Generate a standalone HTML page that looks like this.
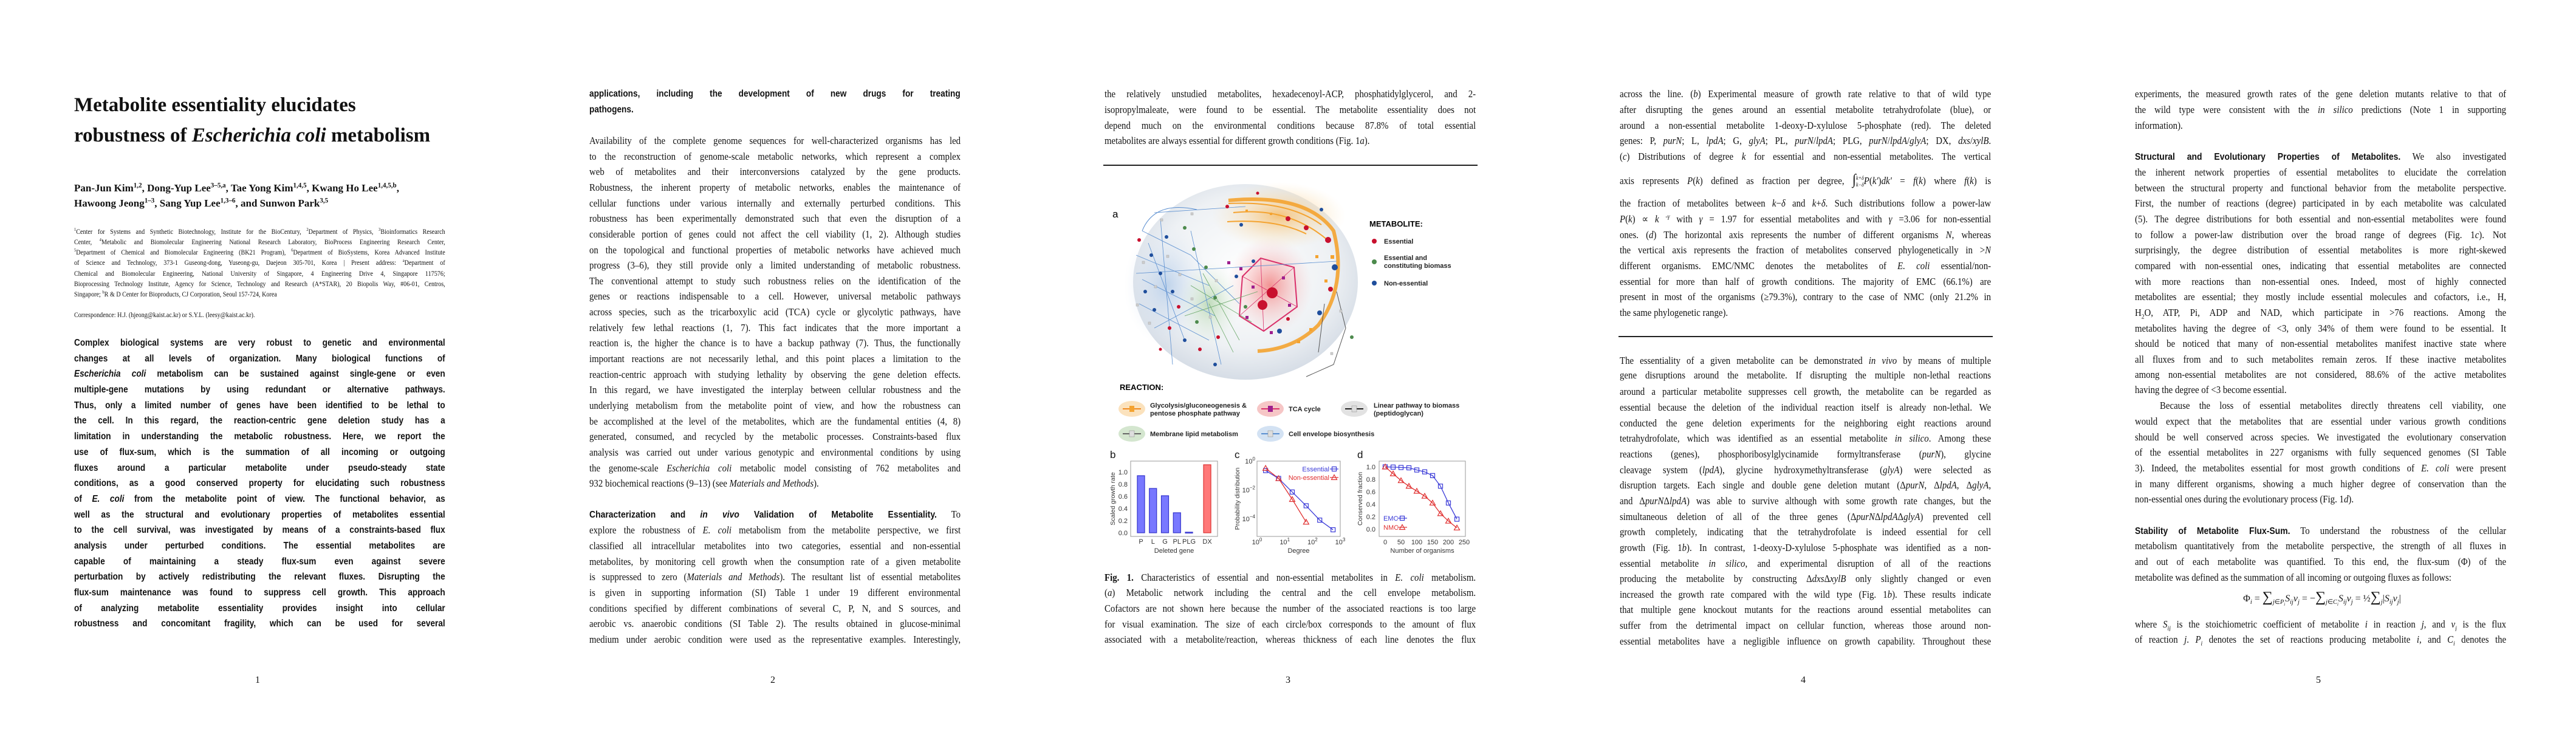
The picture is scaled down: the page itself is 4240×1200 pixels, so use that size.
<!DOCTYPE html>
<html><head><meta charset="utf-8">
<style>
html,body{margin:0;padding:0;background:#fff;}
body{width:4240px;height:1200px;position:relative;overflow:hidden;color:#111;}
.pg{position:absolute;top:0;width:848px;height:1200px;}
.L{position:absolute;left:122px;width:679px;height:22px;line-height:22px;overflow:hidden;text-align:justify;text-align-last:justify;font-family:"Liberation Serif",serif;font-size:16.5px;transform-origin:0 0;transform:scaleX(0.9);}
.S{font-family:"Liberation Sans",sans-serif;font-weight:bold;font-size:15.5px;width:694px;transform:scaleX(0.88);}
.hs{font-family:"Liberation Sans",sans-serif;font-weight:bold;font-size:15.5px;}
.aff{position:absolute;left:122px;width:694px;height:17px;line-height:17px;overflow:hidden;text-align:justify;text-align-last:justify;font-family:"Liberation Serif",serif;font-size:11.5px;transform-origin:0 0;transform:scaleX(0.88);}
.E{text-align-last:left;}
.pn{position:absolute;left:404px;width:40px;text-align:center;top:1110px;font:16px/20px "Liberation Serif",serif;}
sup{font-size:0.65em;line-height:0;}
sub{font-size:0.65em;line-height:0;}
#fig{position:absolute;left:0;top:0;}
</style></head>
<body>

<!-- PAGE 1 -->
<div class="pg" style="left:0">
<div style="position:absolute;left:122px;top:148px;font:bold 33px/50px 'Liberation Serif',serif;white-space:nowrap;">Metabolite essentiality elucidates<br>robustness of <i>Escherichia coli</i> metabolism</div>
<div style="position:absolute;left:122px;top:297px;font:bold 17px/25px 'Liberation Serif',serif;white-space:nowrap;">Pan-Jun Kim<sup>1,2</sup>, Dong-Yup Lee<sup>3–5,a</sup>, Tae Yong Kim<sup>1,4,5</sup>, Kwang Ho Lee<sup>1,4,5,b</sup>,<br>Hawoong Jeong<sup>1–3</sup>, Sang Yup Lee<sup>1,3–6</sup>, and Sunwon Park<sup>3,5</sup></div>
<div class="aff" style="top:374px"><sup>1</sup>Center for Systems and Synthetic Biotechnology, Institute for the BioCentury, <sup>2</sup>Department of Physics, <sup>3</sup>Bioinformatics Research</div>
<div class="aff" style="top:391px">Center, <sup>4</sup>Metabolic and Biomolecular Engineering National Research Laboratory, BioProcess Engineering Research Center,</div>
<div class="aff" style="top:408px"><sup>5</sup>Department of Chemical and Biomolecular Engineering (BK21 Program), <sup>6</sup>Department of BioSystems, Korea Advanced Institute</div>
<div class="aff" style="top:425px">of Science and Technology, 373-1 Guseong-dong, Yuseong-gu, Daejeon 305-701, Korea | Present address: <sup>a</sup>Department of</div>
<div class="aff" style="top:443px">Chemical and Biomolecular Engineering, National University of Singapore, 4 Engineering Drive 4, Singapore 117576;</div>
<div class="aff" style="top:460px">Bioprocessing Technology Institute, Agency for Science, Technology and Research (A*STAR), 20 Biopolis Way, #06-01, Centros,</div>
<div class="aff E" style="top:477px">Singapore; <sup>b</sup>R &amp; D Center for Bioproducts, CJ Corporation, Seoul 157-724, Korea</div>
<div class="aff E" style="top:511px">Correspondence: H.J. (hjeong@kaist.ac.kr) or S.Y.L. (leesy@kaist.ac.kr).</div>
<div class="L S" style="top:554px">Complex biological systems are very robust to genetic and environmental</div>
<div class="L S" style="top:580px">changes at all levels of organization. Many biological functions of</div>
<div class="L S" style="top:605px"><i>Escherichia coli</i> metabolism can be sustained against single-gene or even</div>
<div class="L S" style="top:631px">multiple-gene mutations by using redundant or alternative pathways.</div>
<div class="L S" style="top:657px">Thus, only a limited number of genes have been identified to be lethal to</div>
<div class="L S" style="top:682px">the cell. In this regard, the reaction-centric gene deletion study has a</div>
<div class="L S" style="top:708px">limitation in understanding the metabolic robustness. Here, we report the</div>
<div class="L S" style="top:734px">use of flux-sum, which is the summation of all incoming or outgoing</div>
<div class="L S" style="top:760px">fluxes around a particular metabolite under pseudo-steady state</div>
<div class="L S" style="top:785px">conditions, as a good conserved property for elucidating such robustness</div>
<div class="L S" style="top:811px">of <i>E. coli</i> from the metabolite point of view. The functional behavior, as</div>
<div class="L S" style="top:837px">well as the structural and evolutionary properties of metabolites essential</div>
<div class="L S" style="top:862px">to the cell survival, was investigated by means of a constraints-based flux</div>
<div class="L S" style="top:888px">analysis under perturbed conditions. The essential metabolites are</div>
<div class="L S" style="top:914px">capable of maintaining a steady flux-sum even against severe</div>
<div class="L S" style="top:939px">perturbation by actively redistributing the relevant fluxes. Disrupting the</div>
<div class="L S" style="top:965px">flux-sum maintenance was found to suppress cell growth. This approach</div>
<div class="L S" style="top:991px">of analyzing metabolite essentiality provides insight into cellular</div>
<div class="L S" style="top:1016px">robustness and concomitant fragility, which can be used for several</div>
<div class="pn">1</div>
</div>

<!-- PAGE 2 -->
<div class="pg" style="left:848px">
<div class="L S" style="top:144px">applications, including the development of new drugs for treating</div>
<div class="L S E" style="top:170px">pathogens.</div>
<div class="L" style="top:221px">Availability of the complete genome sequences for well-characterized organisms has led</div>
<div class="L" style="top:247px">to the reconstruction of genome-scale metabolic networks, which represent a complex</div>
<div class="L" style="top:272px">web of metabolites and their interconversions catalyzed by the gene products.</div>
<div class="L" style="top:298px">Robustness, the inherent property of metabolic networks, enables the maintenance of</div>
<div class="L" style="top:324px">cellular functions under various internally and externally perturbed conditions. This</div>
<div class="L" style="top:349px">robustness has been experimentally demonstrated such that even the disruption of a</div>
<div class="L" style="top:375px">considerable portion of genes could not affect the cell viability (1, 2). Although studies</div>
<div class="L" style="top:401px">on the topological and functional properties of metabolic networks have achieved much</div>
<div class="L" style="top:426px">progress (3–6), they still provide only a limited understanding of metabolic robustness.</div>
<div class="L" style="top:452px">The conventional attempt to study such robustness relies on the identification of the</div>
<div class="L" style="top:477px">genes or reactions indispensable to a cell. However, universal metabolic pathways</div>
<div class="L" style="top:503px">across species, such as the tricarboxylic acid (TCA) cycle or glycolytic pathways, have</div>
<div class="L" style="top:529px">relatively few lethal reactions (1, 7). This fact indicates that the more important a</div>
<div class="L" style="top:554px">reaction is, the higher the chance is to have a backup pathway (7). Thus, the functionally</div>
<div class="L" style="top:580px">important reactions are not necessarily lethal, and this point places a limitation to the</div>
<div class="L" style="top:606px">reaction-centric approach with studying lethality by observing the gene deletion effects.</div>
<div class="L" style="top:631px">In this regard, we have investigated the interplay between cellular robustness and the</div>
<div class="L" style="top:657px">underlying metabolism from the metabolite point of view, and how the robustness can</div>
<div class="L" style="top:683px">be accomplished at the level of the metabolites, which are the fundamental entities (4, 8)</div>
<div class="L" style="top:708px">generated, consumed, and recycled by the metabolic processes. Constraints-based flux</div>
<div class="L" style="top:734px">analysis was carried out under various genotypic and environmental conditions by using</div>
<div class="L" style="top:760px">the genome-scale <i>Escherichia coli</i> metabolic model consisting of 762 metabolites and</div>
<div class="L E" style="top:785px">932 biochemical reactions (9–13) (see <i>Materials and Methods</i>).</div>
<div class="L" style="top:836px"><span class="hs">Characterization and <i>in vivo</i> Validation of Metabolite Essentiality.</span> To</div>
<div class="L" style="top:862px">explore the robustness of <i>E. coli</i> metabolism from the metabolite perspective, we first</div>
<div class="L" style="top:888px">classified all intracellular metabolites into two categories, essential and non-essential</div>
<div class="L" style="top:914px">metabolites, by monitoring cell growth when the consumption rate of a given metabolite</div>
<div class="L" style="top:939px">is suppressed to zero (<i>Materials and Methods</i>). The resultant list of essential metabolites</div>
<div class="L" style="top:965px">is given in supporting information (SI) Table 1 under 19 different environmental</div>
<div class="L" style="top:991px">conditions specified by different combinations of several C, P, N, and S sources, and</div>
<div class="L" style="top:1016px">aerobic vs. anaerobic conditions (SI Table 2). The results obtained in glucose-minimal</div>
<div class="L" style="top:1042px">medium under aerobic condition were used as the representative examples. Interestingly,</div>
<div class="pn">2</div>
</div>

<!-- PAGE 3 -->
<div class="pg" style="left:1696px">
<div class="L" style="top:144px">the relatively unstudied metabolites, hexadecenoyl-ACP, phosphatidylglycerol, and 2-</div>
<div class="L" style="top:170px">isopropylmaleate, were found to be essential. The metabolite essentiality does not</div>
<div class="L" style="top:196px">depend much on the environmental conditions because 87.8% of total essential</div>
<div class="L E" style="top:221px">metabolites are always essential for different growth conditions (Fig. 1<i>a</i>).</div>
<div style="position:absolute;left:120px;top:271px;width:616px;height:1.5px;background:#222;"></div>
<div class="L" style="top:940px"><b>Fig. 1.</b> Characteristics of essential and non-essential metabolites in <i>E. coli</i> metabolism.</div>
<div class="L" style="top:965px">(<i>a</i>) Metabolic network including the central and the cell envelope metabolism.</div>
<div class="L" style="top:991px">Cofactors are not shown here because the number of the associated reactions is too large</div>
<div class="L" style="top:1017px">for visual examination. The size of each circle/box corresponds to the amount of flux</div>
<div class="L" style="top:1042px">associated with a metabolite/reaction, whereas thickness of each line denotes the flux</div>
<div class="pn">3</div>
</div>

<!-- PAGE 4 -->
<div class="pg" style="left:2544px">
<div class="L" style="top:144px">across the line. (<i>b</i>) Experimental measure of growth rate relative to that of wild type</div>
<div class="L" style="top:170px">after disrupting the genes around an essential metabolite tetrahydrofolate (blue), or</div>
<div class="L" style="top:196px">around a non-essential metabolite 1-deoxy-D-xylulose 5-phosphate (red). The deleted</div>
<div class="L" style="top:221px">genes: P, <i>purN</i>; L, <i>lpdA</i>; G, <i>glyA</i>; PL, <i>purN</i>/<i>lpdA</i>; PLG, <i>purN</i>/<i>lpdA</i>/<i>glyA</i>; DX, <i>dxs</i>/<i>xylB</i>.</div>
<div class="L" style="top:247px">(<i>c</i>) Distributions of degree <i>k</i> for essential and non-essential metabolites. The vertical</div>
<div class="L" style="top:279px;height:34px;line-height:34px">axis represents <i>P</i>(<i>k</i>) defined as fraction per degree, <span style="font-size:24px">∫</span><span style="display:inline-block;vertical-align:middle;font-size:9px;line-height:11px;"><i>k+δ</i><br><i>k−δ</i></span><i>P</i>(<i>k'</i>)<i>dk'</i> = <i>f</i>(<i>k</i>) where <i>f</i>(<i>k</i>) is</div>
<div class="L" style="top:324px">the fraction of metabolites between <i>k</i>−<i>δ</i> and <i>k</i>+<i>δ</i>. Such distributions follow a power-law</div>
<div class="L" style="top:350px"><i>P</i>(<i>k</i>) ∝ <i>k</i> <sup>-<i>γ</i></sup> with <i>γ</i> = 1.97 for essential metabolites and with <i>γ</i> =3.06 for non-essential</div>
<div class="L" style="top:376px">ones. (<i>d</i>) The horizontal axis represents the number of different organisms <i>N</i>, whereas</div>
<div class="L" style="top:401px">the vertical axis represents the fraction of metabolites conserved phylogenetically in &gt;<i>N</i></div>
<div class="L" style="top:427px">different organisms. EMC/NMC denotes the metabolites of <i>E. coli</i> essential/non-</div>
<div class="L" style="top:453px">essential for more than half of growth conditions. The majority of EMC (66.1%) are</div>
<div class="L" style="top:478px">present in most of the organisms (≥79.3%), contrary to the case of NMC (only 21.2% in</div>
<div class="L E" style="top:504px">the same phylogenetic range).</div>
<div style="position:absolute;left:120px;top:553px;width:616px;height:1.5px;background:#222;"></div>
<div class="L" style="top:583px">The essentiality of a given metabolite can be demonstrated <i>in vivo</i> by means of multiple</div>
<div class="L" style="top:607px">gene disruptions around the metabolite. If disrupting the multiple non-lethal reactions</div>
<div class="L" style="top:634px">around a particular metabolite suppresses cell growth, the metabolite can be regarded as</div>
<div class="L" style="top:660px">essential because the deletion of the individual reaction itself is already non-lethal. We</div>
<div class="L" style="top:686px">conducted the gene deletion experiments for the neighboring eight reactions around</div>
<div class="L" style="top:711px">tetrahydrofolate, which was identified as an essential metabolite <i>in silico</i>. Among these</div>
<div class="L" style="top:737px">reactions (genes), phosphoribosylglycinamide formyltransferase (<i>purN</i>), glycine</div>
<div class="L" style="top:763px">cleavage system (<i>lpdA</i>), glycine hydroxymethyltransferase (<i>glyA</i>) were selected as</div>
<div class="L" style="top:788px">disruption targets. Each single and double gene deletion mutant (Δ<i>purN</i>, Δ<i>lpdA</i>, Δ<i>glyA</i>,</div>
<div class="L" style="top:814px">and Δ<i>purN</i>Δ<i>lpdA</i>) was able to survive although with some growth rate changes, but the</div>
<div class="L" style="top:840px">simultaneous deletion of all of the three genes (Δ<i>purN</i>Δ<i>lpdA</i>Δ<i>glyA</i>) prevented cell</div>
<div class="L" style="top:865px">growth completely, indicating that the tetrahydrofolate is indeed essential for cell</div>
<div class="L" style="top:891px">growth (Fig. 1<i>b</i>). In contrast, 1-deoxy-D-xylulose 5-phosphate was identified as a non-</div>
<div class="L" style="top:917px">essential metabolite <i>in silico</i>, and experimental disruption of all of the reactions</div>
<div class="L" style="top:942px">producing the metabolite by constructing Δ<i>dxs</i>Δ<i>xylB</i> only slightly changed or even</div>
<div class="L" style="top:968px">increased the growth rate compared with the wild type (Fig. 1<i>b</i>). These results indicate</div>
<div class="L" style="top:993px">that multiple gene knockout mutants for the reactions around essential metabolites can</div>
<div class="L" style="top:1019px">suffer from the detrimental impact on cellular function, whereas those around non-</div>
<div class="L" style="top:1045px">essential metabolites have a negligible influence on growth capability. Throughout these</div>
<div class="pn">4</div>
</div>

<!-- PAGE 5 -->
<div class="pg" style="left:3392px">
<div class="L" style="top:144px">experiments, the measured growth rates of the gene deletion mutants relative to that of</div>
<div class="L" style="top:170px">the wild type were consistent with the <i>in silico</i> predictions (Note 1 in supporting</div>
<div class="L E" style="top:196px">information).</div>
<div class="L" style="top:247px"><span class="hs">Structural and Evolutionary Properties of Metabolites.</span> We also investigated</div>
<div class="L" style="top:273px">the inherent network properties of essential metabolites to elucidate the correlation</div>
<div class="L" style="top:299px">between the structural property and functional behavior from the metabolite perspective.</div>
<div class="L" style="top:324px">First, the number of reactions (degree) participated in by each metabolite was calculated</div>
<div class="L" style="top:350px">(5). The degree distributions for both essential and non-essential metabolites were found</div>
<div class="L" style="top:376px">to follow a power-law distribution over the broad range of degrees (Fig. 1<i>c</i>). Not</div>
<div class="L" style="top:401px">surprisingly, the degree distribution of essential metabolites is more right-skewed</div>
<div class="L" style="top:427px">compared with non-essential ones, indicating that essential metabolites are connected</div>
<div class="L" style="top:453px">with more reactions than non-essential ones. Indeed, most of highly connected</div>
<div class="L" style="top:478px">metabolites are essential; they mostly include essential molecules and cofactors, i.e., H,</div>
<div class="L" style="top:504px">H<sub>2</sub>O, ATP, Pi, ADP and NAD, which participate in &gt;76 reactions. Among the</div>
<div class="L" style="top:530px">metabolites having the degree of &lt;3, only 34% of them were found to be essential. It</div>
<div class="L" style="top:555px">should be noticed that many of non-essential metabolites manifest inactive state where</div>
<div class="L" style="top:581px">all fluxes from and to such metabolites remain zeros. If these inactive metabolites</div>
<div class="L" style="top:606px">among non-essential metabolites are not considered, 88.6% of the active metabolites</div>
<div class="L E" style="top:631px">having the degree of &lt;3 become essential.</div>
<div class="L" style="top:657px;left:163px;width:633px">Because the loss of essential metabolites directly threatens cell viability, one</div>
<div class="L" style="top:683px">would expect that the metabolites that are essential under various growth conditions</div>
<div class="L" style="top:709px">should be well conserved across species. We investigated the evolutionary conservation</div>
<div class="L" style="top:734px">of the essential metabolites in 227 organisms with fully sequenced genomes (SI Table</div>
<div class="L" style="top:760px">3). Indeed, the metabolites essential for most growth conditions of <i>E. coli</i> were present</div>
<div class="L" style="top:786px">in many different organisms, showing a much higher degree of conservation than the</div>
<div class="L E" style="top:811px">non-essential ones during the evolutionary process (Fig. 1<i>d</i>).</div>
<div class="L" style="top:863px"><span class="hs">Stability of Metabolite Flux-Sum.</span> To understand the robustness of the cellular</div>
<div class="L" style="top:888px">metabolism quantitatively from the metabolite perspective, the strength of all fluxes in</div>
<div class="L" style="top:914px">and out of each metabolite was quantified. To this end, the flux-sum (Φ) of the</div>
<div class="L E" style="top:940px">metabolite was defined as the summation of all incoming or outgoing fluxes as follows:</div>
<div style="position:absolute;left:280px;top:963px;width:300px;height:40px;font:16px/40px 'Liberation Serif',serif;white-space:nowrap;text-align:center;">Φ<sub><i>i</i></sub> = <span style="font-size:24px">∑</span><sub><i>j</i>∈<i>P<sub>i</sub></i></sub><i>S<sub>ij</sub>v<sub>j</sub></i> = −<span style="font-size:24px">∑</span><sub><i>j</i>∈<i>C<sub>i</sub></i></sub><i>S<sub>ij</sub>v<sub>j</sub></i> = ½<span style="font-size:24px">∑</span><sub><i>j</i></sub>|<i>S<sub>ij</sub>v<sub>j</sub></i>|</div>
<div class="L" style="top:1017px">where <i>S<sub>ij</sub></i> is the stoichiometric coefficient of metabolite <i>i</i> in reaction <i>j</i>, and <i>v<sub>j</sub></i> is the flux</div>
<div class="L" style="top:1042px">of reaction <i>j</i>. <i>P<sub>i</sub></i> denotes the set of reactions producing metabolite <i>i</i>, and <i>C<sub>i</sub></i> denotes the</div>
<div class="pn">5</div>
</div>

<!-- FIGURE -->
<svg id="fig" width="4240" height="1200" viewBox="0 0 4240 1200" xmlns="http://www.w3.org/2000/svg" font-family="Liberation Sans, sans-serif">
<defs>
<radialGradient id="sph" cx="0.5" cy="0.45" r="0.55">
<stop offset="0" stop-color="#ffffff"/><stop offset="0.7" stop-color="#eef1f4"/><stop offset="1" stop-color="#d6dde6"/></radialGradient>
<radialGradient id="pinkg"><stop offset="0" stop-color="#f07a7a" stop-opacity="0.8"/><stop offset="1" stop-color="#f7c0c0" stop-opacity="0"/></radialGradient>
<radialGradient id="orgg"><stop offset="0" stop-color="#f6b04a" stop-opacity="0.7"/><stop offset="1" stop-color="#fbe0b0" stop-opacity="0"/></radialGradient>
<radialGradient id="blug"><stop offset="0" stop-color="#a8c4e6" stop-opacity="0.7"/><stop offset="1" stop-color="#dfe8f4" stop-opacity="0"/></radialGradient>
<radialGradient id="greg"><stop offset="0" stop-color="#a8cfa0" stop-opacity="0.7"/><stop offset="1" stop-color="#e0f0dc" stop-opacity="0"/></radialGradient>
</defs>
<g>
<ellipse cx="2050" cy="464" rx="185" ry="161" fill="url(#sph)"/>
<ellipse cx="2105" cy="355" rx="110" ry="55" fill="url(#orgg)"/>
<ellipse cx="2090" cy="470" rx="70" ry="80" fill="url(#pinkg)"/>
<ellipse cx="1920" cy="470" rx="70" ry="100" fill="url(#blug)"/>
<ellipse cx="1990" cy="500" rx="50" ry="70" fill="url(#greg)"/>
<path d="M2022,330 Q2150,318 2195,380 Q2218,470 2170,535 Q2130,575 2070,578" fill="none" stroke="#f4a330" stroke-width="6" opacity="0.9"/>
<path d="M2022,335 Q2120,330 2175,370 M2030,350 Q2120,340 2185,395 M2020,365 Q2100,360 2150,385" fill="none" stroke="#f4a330" stroke-width="2"/>
<path d="M2075,425 L2130,440 L2135,505 L2080,545 L2040,520 L2045,455 Z" fill="none" stroke="#d9306a" stroke-width="2"/>
<path d="M2075,425 L2080,545 M2045,455 L2135,505 M2040,520 L2130,440" stroke="#d9306a" stroke-width="0.8"/>
<path d="M1880,380 L1960,420 L2040,500 M1870,420 L1990,470 M1880,460 L2000,520 M1875,500 L1990,560 M1900,540 L2030,470 M1890,400 L1950,560 M1910,360 L1930,600 M1960,380 L2010,600 M1870,450 L2200,430 M1900,350 L2050,340" stroke="#5b8fd0" stroke-width="0.8" fill="none"/>
<path d="M1960,470 L2060,530 M1980,450 L2040,560 M1950,520 L2070,480 M1990,500 L2030,580" stroke="#6aa86a" stroke-width="0.8" fill="none"/>
<path d="M2200,480 L2215,540 L2195,600 L2150,620 M2180,500 L2170,580" stroke="#555" stroke-width="1" fill="none"/>
<path d="M1880,380 Q1900,330 1970,345" stroke="#5b8fd0" stroke-width="1" fill="none"/>
<g fill="#c8102e"><circle cx="2094" cy="482" r="9"/><circle cx="2078" cy="502" r="8"/><circle cx="2186" cy="395" r="5"/><circle cx="2190" cy="476" r="4"/><circle cx="2120" cy="360" r="4"/><circle cx="2150" cy="375" r="4"/><circle cx="2120" cy="525" r="3"/><circle cx="1875" cy="395" r="3"/><circle cx="1925" cy="540" r="3"/><circle cx="1940" cy="505" r="3"/><circle cx="2020" cy="340" r="3"/><circle cx="1975" cy="575" r="3"/><circle cx="2005" cy="555" r="3"/><circle cx="2070" cy="318" r="2.5"/><circle cx="1910" cy="575" r="2.5"/></g>
<g fill="#1f4e9c"><circle cx="2197" cy="440" r="5"/><circle cx="2172" cy="515" r="4"/><circle cx="2106" cy="545" r="4"/><circle cx="2063" cy="430" r="3"/><circle cx="2175" cy="345" r="3"/><circle cx="2043" cy="370" r="3"/><circle cx="1895" cy="420" r="3"/><circle cx="1910" cy="450" r="3"/><circle cx="1885" cy="480" r="3"/><circle cx="1930" cy="480" r="3"/><circle cx="1900" cy="510" r="3"/><circle cx="1920" cy="390" r="3"/><circle cx="1950" cy="560" r="3"/><circle cx="2035" cy="455" r="3"/><circle cx="2000" cy="600" r="3"/></g>
<g fill="#4d8a4d"><circle cx="1950" cy="375" r="3"/><circle cx="1965" cy="410" r="3"/><circle cx="2000" cy="490" r="3"/><circle cx="1970" cy="530" r="3"/><circle cx="2225" cy="555" r="3"/><circle cx="2050" cy="505" r="3"/><circle cx="1985" cy="440" r="3"/></g>
<g fill="#9e1f8e"><rect x="2020" y="430" width="5" height="5"/><rect x="2040" y="440" width="5" height="5"/><rect x="2060" y="470" width="5" height="5"/><rect x="2110" y="455" width="5" height="5"/><rect x="2120" y="500" width="5" height="5"/><rect x="2050" y="520" width="5" height="5"/><rect x="2090" y="545" width="5" height="5"/></g>
<g fill="#cfcfcf" stroke="#999" stroke-width="0.4"><rect x="1880" y="430" width="4" height="4"/><rect x="1900" y="470" width="4" height="4"/><rect x="1920" y="420" width="4" height="4"/><rect x="1940" y="450" width="4" height="4"/><rect x="1890" y="530" width="4" height="4"/><rect x="1960" y="490" width="4" height="4"/><rect x="1990" y="520" width="4" height="4"/><rect x="2000" y="460" width="4" height="4"/><rect x="2205" y="510" width="4" height="4"/><rect x="2190" y="580" width="4" height="4"/><rect x="1910" y="360" width="4" height="4"/><rect x="1960" y="350" width="4" height="4"/><rect x="1870" y="500" width="4" height="4"/></g>
<g fill="#f4a330"><rect x="2165" y="420" width="5" height="5"/><rect x="2190" y="420" width="6" height="6"/><rect x="2180" y="460" width="5" height="5"/><rect x="2155" y="540" width="5" height="5"/><rect x="2135" y="560" width="5" height="5"/><rect x="2050" y="345" width="4" height="4"/><rect x="2090" y="350" width="4" height="4"/></g>
</g>
<text x="1831" y="358" font-size="17">a</text>
<g>
<text x="2254" y="373" font-size="13" font-weight="bold">METABOLITE:</text>
<circle cx="2262" cy="397" r="4" fill="#c8102e"/><text x="2278" y="401" font-size="11" font-weight="bold" fill="#222">Essential</text>
<circle cx="2262" cy="431" r="4" fill="#4d8a4d"/><text x="2278" y="428" font-size="11" font-weight="bold" fill="#222">Essential and</text><text x="2278" y="441" font-size="11" font-weight="bold" fill="#222">constituting biomass</text>
<circle cx="2262" cy="466" r="4" fill="#1f4e9c"/><text x="2278" y="470" font-size="11" font-weight="bold" fill="#222">Non-essential</text>
</g>
<g>
<text x="1843" y="642" font-size="13" font-weight="bold">REACTION:</text>
<ellipse cx="1863" cy="673" rx="22" ry="13" fill="#fbe2bd"/><line x1="1848" y1="673" x2="1878" y2="673" stroke="#f08a20" stroke-width="2"/><rect x="1859" y="668" width="8" height="10" fill="#f4a330"/>
<text x="1893" y="671" font-size="11" font-weight="bold" fill="#222">Glycolysis/gluconeogenesis &amp;</text><text x="1893" y="684" font-size="11" font-weight="bold" fill="#222">pentose phosphate pathway</text>
<ellipse cx="2091" cy="673" rx="22" ry="13" fill="#f6c6c6"/><line x1="2076" y1="673" x2="2106" y2="673" stroke="#d9306a" stroke-width="2"/><rect x="2087" y="668" width="8" height="10" fill="#9e1f8e"/>
<text x="2121" y="677" font-size="11" font-weight="bold" fill="#222">TCA cycle</text>
<ellipse cx="2229" cy="673" rx="22" ry="13" fill="#e2e2e2"/><line x1="2214" y1="673" x2="2244" y2="673" stroke="#222" stroke-width="2"/><rect x="2225" y="668" width="8" height="10" fill="#ddd" stroke="#888" stroke-width="0.5"/>
<text x="2261" y="671" font-size="11" font-weight="bold" fill="#222">Linear pathway to biomass</text><text x="2261" y="684" font-size="11" font-weight="bold" fill="#222">(peptidoglycan)</text>
<ellipse cx="1863" cy="714" rx="22" ry="13" fill="#d4e6cf"/><line x1="1848" y1="714" x2="1878" y2="714" stroke="#666" stroke-width="2"/><rect x="1859" y="709" width="8" height="10" fill="#ddd" stroke="#888" stroke-width="0.5"/>
<text x="1893" y="718" font-size="11" font-weight="bold" fill="#222">Membrane lipid metabolism</text>
<ellipse cx="2091" cy="714" rx="22" ry="13" fill="#d3e2f3"/><line x1="2076" y1="714" x2="2106" y2="714" stroke="#5b8fd0" stroke-width="2"/><rect x="2087" y="709" width="8" height="10" fill="#ddd" stroke="#888" stroke-width="0.5"/>
<text x="2121" y="718" font-size="11" font-weight="bold" fill="#222">Cell envelope biosynthesis</text>
</g>
<g id="chartB"></g>
<g id="chartC"></g>
<g id="chartD"></g>
</svg>

<script>
// Panel b data
const bCategories = ['P','L','G','PL','PLG','DX'];
const bValues = [0.94, 0.73, 0.61, 0.33, 0.01, 1.12];
const bTicks = [0, 0.2, 0.4, 0.6, 0.8, 1.0];
const bTickLabels = ['0.0','0.2','0.4','0.6','0.8','1.0'];
// Panel c data
const cDegreeEss = [2.04, 6.0, 18.6, 59, 182, 550];
const cProbEss = [0.22, 0.062, 0.0071, 0.00079, 0.000079, 0.000017];
const cDegreeNon = [2.04, 6.0, 18.6, 59];
const cProbNon = [0.32, 0.062, 0.0022, 0.000058];
const cXTicks = [0, 1, 2, 3];
const cYTicks = [0, -2, -4];
// Panel d data
const dOrgs = [0, 25, 50, 75, 100, 125, 150, 175, 200, 227];
const dEMC = [1.0, 0.996, 0.99, 0.985, 0.95, 0.92, 0.86, 0.69, 0.42, 0.16];
const dNMC = [1.0, 0.89, 0.78, 0.69, 0.61, 0.53, 0.42, 0.25, 0.13, 0.02];
const dXTicks = [0, 50, 100, 150, 200, 250];
const dYTicks = [0, 0.2, 0.4, 0.6, 0.8, 1.0];
const dYTickLabels = ['0.0','0.2','0.4','0.6','0.8','1.0'];

const NS = 'http://www.w3.org/2000/svg';
function mk(parent, tag, attrs, text) {
  const e = document.createElementNS(NS, tag);
  for (const k in attrs) e.setAttribute(k, attrs[k]);
  if (text !== undefined) e.textContent = text;
  parent.appendChild(e);
  return e;
}
const BLUE = '#3a3ad8', RED = '#e03030';

// ---------- Panel b ----------
(function(){
  const g = document.getElementById('chartB');
  const L = 1861, R = 2004, T = 759, B = 883;
  const yB = v => 877 - v * 100;
  const xB = i => 1878 + i * 19.75 + (i === 5 ? 10.3 : 0);
  const box = mk(g, 'rect', {x:L, y:T, width:R-L, height:B-T, fill:'none', stroke:'#999', 'stroke-width':1});
  
  
  bTicks.forEach((t, i) => {
    const lab = mk(g, 'text', {x:L-5, y:yB(t)+4, 'font-size':11, 'text-anchor':'end', fill:'#333'}, bTickLabels[i]);
    
    
  });
  bValues.forEach((v, i) => {
    const red = i === 5;
    const h = Math.max(yB(0) - yB(v), 1.5);
    const r = mk(g, 'rect', {x:xB(i)-6, y:yB(v), width:12, height:h, fill: red ? '#ff7878' : '#7878ff', stroke: red ? '#dd3333' : '#3333cc', 'stroke-width':1.2});
    
    
    const lab = mk(g, 'text', {x:xB(i), y:895, 'font-size':11, 'text-anchor':'middle', fill:'#333'}, bCategories[i]);
    
    
  });
  const xt = mk(g, 'text', {x:(L+R)/2, y:910, 'font-size':11, 'text-anchor':'middle', fill:'#333'}, 'Deleted gene');
  
  
  const yt = mk(g, 'text', {x:0, y:0, 'font-size':10.5, 'text-anchor':'middle', fill:'#333', transform:'translate(1835,821) rotate(-90)'}, 'Scaled growth rate');
  
  
  const pl = mk(g, 'text', {x:1827, y:754, 'font-size':17, fill:'#111'}, 'b');
  
  
})();

function square(g, x, y, col, name) {
  const s = mk(g, 'rect', {x:x-3.5, y:y-3.5, width:7, height:7, fill:'none', stroke:col, 'stroke-width':1.2});
  
  
}
function tri(g, x, y, col, name) {
  const t = mk(g, 'polygon', {points:(x)+','+(y-4.5)+' '+(x-4.5)+','+(y+3.5)+' '+(x+4.5)+','+(y+3.5), fill:'none', stroke:col, 'stroke-width':1.2});
  
  
}
function powLabel(g, x, y, exp, anchor, name) {
  const t = mk(g, 'text', {x:x, y:y, 'font-size':11, 'text-anchor':anchor, fill:'#333'});
  
  
  const a = document.createElementNS(NS, 'tspan'); a.textContent = '10'; t.appendChild(a);
  const b = document.createElementNS(NS, 'tspan'); b.setAttribute('dy', '-5'); b.setAttribute('font-size', '8'); b.textContent = (exp < 0 ? '−' + (-exp) : String(exp)); t.appendChild(b);
}

// ---------- Panel c ----------
(function(){
  const g = document.getElementById('chartC');
  const L = 2069, R = 2206, T = 759, B = 883;
  const xC = k => L + Math.log10(k) * (R - L) / 3;
  const yC = p => T - Math.log10(p) * 23.7;
  const box = mk(g, 'rect', {x:L, y:T, width:R-L, height:B-T, fill:'none', stroke:'#999', 'stroke-width':1});
  
  
  cXTicks.forEach(e => powLabel(g, xC(Math.pow(10, e)), 896, e, 'middle', 'x-tick-label-c'));
  cYTicks.forEach(e => powLabel(g, L-3, yC(Math.pow(10, e))+4, e, 'end', 'y-tick-label-c'));
  const lineE = mk(g, 'polyline', {points: cDegreeEss.map((k,i)=>xC(k)+','+yC(cProbEss[i])).join(' '), fill:'none', stroke:BLUE, 'stroke-width':1.3});
  
  
  const lineN = mk(g, 'polyline', {points: cDegreeNon.map((k,i)=>xC(k)+','+yC(cProbNon[i])).join(' '), fill:'none', stroke:RED, 'stroke-width':1.3});
  
  
  cDegreeEss.forEach((k,i) => square(g, xC(k), yC(cProbEss[i]), BLUE, 'point-essential'));
  cDegreeNon.forEach((k,i) => tri(g, xC(k), yC(cProbNon[i]), RED, 'point-non-essential'));
  const l1 = mk(g, 'text', {x:2188, y:776, 'font-size':11, 'text-anchor':'end', fill:BLUE}, 'Essential');
  
  
  mk(g, 'line', {x1:2189, y1:772, x2:2203, y2:772, stroke:BLUE, 'stroke-width':1.2});
  square(g, 2196, 772, BLUE, 'legend-marker-essential');
  const l2 = mk(g, 'text', {x:2188, y:790, 'font-size':11, 'text-anchor':'end', fill:RED}, 'Non-essential');
  
  
  mk(g, 'line', {x1:2189, y1:786, x2:2203, y2:786, stroke:RED, 'stroke-width':1.2});
  tri(g, 2196, 786, RED, 'legend-marker-non-essential');
  const xt = mk(g, 'text', {x:(L+R)/2, y:910, 'font-size':11, 'text-anchor':'middle', fill:'#333'}, 'Degree');
  
  
  const yt = mk(g, 'text', {x:0, y:0, 'font-size':10.5, 'text-anchor':'middle', fill:'#333', transform:'translate(2040,821) rotate(-90)'}, 'Probability distribution');
  
  
  const pl = mk(g, 'text', {x:2032, y:754, 'font-size':17, fill:'#111'}, 'c');
  
  
})();

// ---------- Panel d ----------
(function(){
  const g = document.getElementById('chartD');
  const L = 2270, R = 2412, T = 759, B = 883;
  const xD = n => 2280 + n * 0.52;
  const yD = f => 871 - f * 102.5;
  const box = mk(g, 'rect', {x:L, y:T, width:R-L, height:B-T, fill:'none', stroke:'#999', 'stroke-width':1});
  
  
  dXTicks.forEach(t => {
    const lab = mk(g, 'text', {x:xD(t), y:896, 'font-size':11, 'text-anchor':'middle', fill:'#333'}, String(t));
    
    
  });
  dYTicks.forEach((t,i) => {
    const lab = mk(g, 'text', {x:L-6, y:yD(t)+4, 'font-size':11, 'text-anchor':'end', fill:'#333'}, dYTickLabels[i]);
    
    
  });
  const lE = mk(g, 'polyline', {points: dOrgs.map((n,i)=>xD(n)+','+yD(dEMC[i])).join(' '), fill:'none', stroke:BLUE, 'stroke-width':1.3});
  
  
  const lN = mk(g, 'polyline', {points: dOrgs.map((n,i)=>xD(n)+','+yD(dNMC[i])).join(' '), fill:'none', stroke:RED, 'stroke-width':1.3});
  
  
  dOrgs.forEach((n,i) => square(g, xD(n), yD(dEMC[i]), BLUE, 'point-emc'));
  dOrgs.forEach((n,i) => tri(g, xD(n), yD(dNMC[i]), RED, 'point-nmc'));
  const l1 = mk(g, 'text', {x:2277, y:857, 'font-size':11, fill:BLUE}, 'EMC');
  
  
  mk(g, 'line', {x1:2300, y1:853, x2:2316, y2:853, stroke:BLUE, 'stroke-width':1.2});
  square(g, 2308, 853, BLUE, 'legend-marker-emc');
  const l2 = mk(g, 'text', {x:2277, y:872, 'font-size':11, fill:RED}, 'NMC');
  
  
  mk(g, 'line', {x1:2300, y1:868, x2:2316, y2:868, stroke:RED, 'stroke-width':1.2});
  tri(g, 2308, 868, RED, 'legend-marker-nmc');
  const xt = mk(g, 'text', {x:(L+R)/2, y:910, 'font-size':11, 'text-anchor':'middle', fill:'#333'}, 'Number of organisms');
  
  
  const yt = mk(g, 'text', {x:0, y:0, 'font-size':10.5, 'text-anchor':'middle', fill:'#333', transform:'translate(2242,821) rotate(-90)'}, 'Conserved fraction');
  
  
  const pl = mk(g, 'text', {x:2234, y:754, 'font-size':17, fill:'#111'}, 'd');
  
  
})();
</script>
</body></html>
